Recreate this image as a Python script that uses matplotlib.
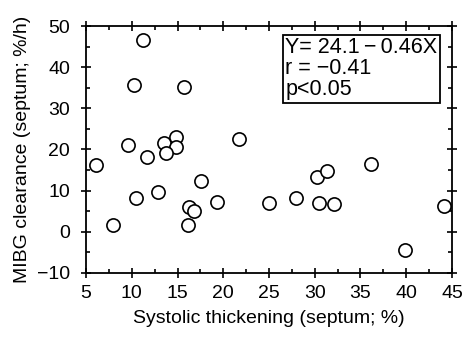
import matplotlib
matplotlib.use('Agg')
import matplotlib.pyplot as plt
from matplotlib.ticker import MultipleLocator

plt.rcParams['font.family'] = ['Liberation Sans', 'DejaVu Sans']

# systolic thickening (septum; %) vs MIBG clearance (septum; %/h)
thickening = [11.2, 10.25, 15.7, 9.55, 13.5, 14.8, 14.85, 13.7, 11.7, 21.75,
              6.1, 36.1, 10.5, 12.9, 8.0, 17.6, 16.3, 16.8, 16.1, 19.3,
              25.0, 27.9, 30.3, 31.3, 30.5, 32.1, 39.9, 44.1]
clearance = [46.6, 35.7, 35.3, 21.0, 21.7, 23.0, 20.5, 19.1, 18.1, 22.5,
             16.3, 16.5, 8.3, 9.6, 1.6, 12.3, 6.1, 5.1, 1.6, 7.2,
             7.0, 8.2, 13.4, 14.8, 7.0, 6.8, -4.5, 6.3]

fig = plt.figure(figsize=(4.65, 3.39), dpi=100)
ax = fig.add_axes([0.185, 0.195, 0.787, 0.728])

ax.plot(thickening, clearance, 'o', markersize=9.5, markerfacecolor='white',
        markeredgecolor='black', markeredgewidth=1.2, linestyle='none')

ax.set_xlim(5, 45)
ax.set_ylim(-10, 50)
ax.xaxis.set_major_locator(MultipleLocator(5))
ax.xaxis.set_minor_locator(MultipleLocator(2.5))
ax.yaxis.set_major_locator(MultipleLocator(10))
ax.yaxis.set_minor_locator(MultipleLocator(5))
ax.tick_params(which='both', top=True, right=True, width=1.2)
ax.tick_params(which='major', direction='inout', length=7, labelsize=14)
ax.tick_params(which='minor', direction='in', length=3)
ax.tick_params(axis='x', which='major', pad=5)
ax.tick_params(axis='y', which='major', pad=8)
for s in ax.spines.values():
    s.set_linewidth(1.3)

ax.set_yticks(range(-10, 51, 10))
ax.set_yticklabels(['\u221210', '0', '10', '20', '30', '40', '50'])

ax.set_xlabel('Systolic thickening (septum; %)', fontsize=14, labelpad=6)
ax.set_ylabel('MIBG clearance (septum; %/h)', fontsize=14, labelpad=4)

ax.text(0.545, 0.955, 'Y= 24.1\u2009\u2212\u20090.46X\nr = \u22120.41\np<0.05',
        transform=ax.transAxes, ha='left', va='top', fontsize=15.5,
        linespacing=1.0,
        bbox=dict(boxstyle='square,pad=0.12', facecolor='white',
                  edgecolor='black', linewidth=1.3))

fig.savefig('out.png', dpi=100)
